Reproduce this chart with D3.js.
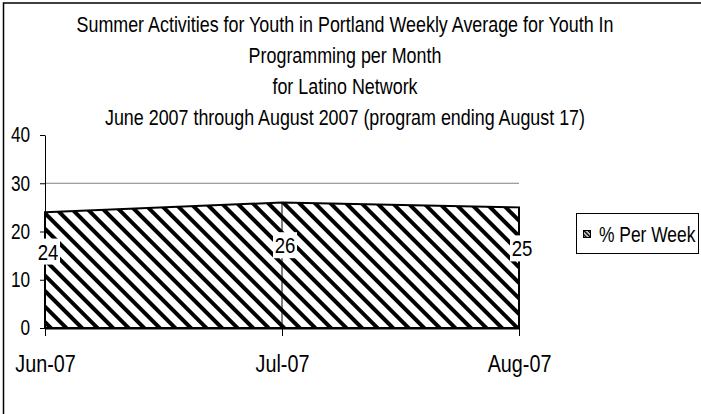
<!DOCTYPE html>
<html>
<head>
<meta charset="utf-8">
<script src="https://cdn.jsdelivr.net/npm/d3@7"></script>
<style>
  body { margin: 0; background: #fff; }
  svg text { font-family: "Liberation Sans Narrow", "Arial Narrow", "Liberation Sans", sans-serif; fill: #000; }
</style>
</head>
<body>
<svg id="chart" width="701" height="414"></svg>
<script>
// chart data
var months = ["Jun-07", "Jul-07", "Aug-07"];
var perWeek = [24, 26, 25];
var yTicks = [0, 10, 20, 30, 40];
var gridTicks = [10, 20, 30];
var seriesName = "% Per Week";
var titleLines = [
  "Summer Activities for Youth in Portland Weekly Average for Youth In",
  "Programming per Month",
  "for Latino Network",
  "June 2007 through August 2007 (program ending August 17)"
];

var data = months.map(function(m, i) { return {month: m, value: perWeek[i]}; });

var svg = d3.select("#chart");

var x = d3.scalePoint().domain(months).range([45, 519]);
var y = d3.scaleLinear().domain([0, 40]).range([328, 135]);

// squeeze text horizontally around its anchor (the original uses a narrow face)
function narrow(sel, k) {
  sel.each(function() {
    var ax = +d3.select(this).attr("x") || 0;
    d3.select(this).attr("transform",
        "translate(" + ax + ",0) scale(" + k + ",1) translate(" + (-ax) + ",0)");
  });
}

// hatch pattern
var defs = svg.append("defs");
var pat = defs.append("pattern")
    .attr("id", "hatch")
    .attr("patternUnits", "userSpaceOnUse")
    .attr("width", 11)
    .attr("height", 11)
    .attr("patternTransform", "rotate(-45)");
pat.append("rect").attr("width", 11).attr("height", 11).attr("fill", "#fff");
pat.append("rect").attr("x", 0).attr("width", 4).attr("height", 11).attr("fill", "#000");

var pat2 = defs.append("pattern")
    .attr("id", "hatchSmall")
    .attr("patternUnits", "userSpaceOnUse")
    .attr("width", 3)
    .attr("height", 3)
    .attr("patternTransform", "rotate(-45)");
pat2.append("rect").attr("width", 3).attr("height", 3).attr("fill", "#fff");
pat2.append("rect").attr("width", 1.6).attr("height", 3).attr("fill", "#000");

// outer border
svg.append("rect")
    .attr("x", 3.5).attr("y", 3)
    .attr("width", 800).attr("height", 500)
    .attr("fill", "none")
    .attr("stroke", "#000")
    .attr("stroke-width", 1.5);

// title
svg.append("g").selectAll("text")
    .data(titleLines)
  .enter().append("text")
    .attr("x", 345)
    .attr("y", function(d, i) { return 32 + i * 31; })
    .attr("text-anchor", "middle")
    .style("font-size", "22.5px")
    .text(function(d) { return d; })
    .call(narrow, 0.795);

// gridlines
svg.append("g").selectAll("line")
    .data(gridTicks)
  .enter().append("line")
    .attr("x1", x.range()[0]).attr("x2", x.range()[1])
    .attr("y1", function(d) { return y(d); })
    .attr("y2", function(d) { return y(d); })
    .attr("stroke", "#808080")
    .attr("stroke-width", 1);

// area
var area = d3.area()
    .x(function(d) { return x(d.month); })
    .y0(y(0))
    .y1(function(d) { return y(d.value); });

svg.append("path")
    .datum(data)
    .attr("d", area)
    .attr("fill", "url(#hatch)")
    .attr("stroke", "#000")
    .attr("stroke-width", 2);

// drop lines
svg.append("g").selectAll("line")
    .data(data)
  .enter().append("line")
    .attr("x1", function(d) { return x(d.month); })
    .attr("x2", function(d) { return x(d.month); })
    .attr("y1", function(d) { return y(d.value); })
    .attr("y2", y(0))
    .attr("stroke", "#000")
    .attr("stroke-width", 1);

// y axis
var yAxis = d3.axisLeft(y)
    .tickValues(yTicks)
    .tickSize(5)
    .tickSizeOuter(0)
    .tickPadding(10);

var gy = svg.append("g")
    .attr("transform", "translate(45,0)")
    .call(yAxis);
gy.attr("font-family", null);
gy.select(".domain").attr("stroke", "#000");
gy.selectAll(".tick line").attr("stroke", "#000");
gy.selectAll("text").style("font-size", "21.5px").call(narrow, 0.8);

// x axis
var xAxis = d3.axisBottom(x)
    .tickSize(8)
    .tickSizeOuter(0)
    .tickPadding(20);

var gx = svg.append("g")
    .attr("transform", "translate(0," + y(0) + ")")
    .call(xAxis);
gx.attr("font-family", null);
gx.select(".domain").attr("stroke", "#000").attr("stroke-width", 2);
gx.selectAll(".tick line").attr("stroke", "#000");
gx.selectAll("text").style("font-size", "23px").call(narrow, 0.86);

// data labels
var labels = svg.append("g").selectAll("g")
    .data(data)
  .enter().append("g");

labels.append("rect")
    .attr("x", function(d) { return x(d.month) - 9; })
    .attr("y", function(d) { return y(d.value * 0.66) - 13; })
    .attr("width", 24)
    .attr("height", 26)
    .attr("fill", "#fff");

labels.append("text")
    .attr("x", function(d) { return x(d.month) + 3; })
    .attr("y", function(d) { return y(d.value * 0.66); })
    .attr("dy", "0.35em")
    .attr("text-anchor", "middle")
    .style("font-size", "23px")
    .text(function(d) { return d.value; })
    .call(narrow, 0.81);

// legend
var legend = svg.append("g");
legend.append("rect")
    .attr("x", 576.5).attr("y", 213.5)
    .attr("width", 122).attr("height", 40)
    .attr("fill", "#fff")
    .attr("stroke", "#000");
legend.append("rect")
    .attr("x", 583.5).attr("y", 230.5)
    .attr("width", 7).attr("height", 7)
    .attr("fill", "url(#hatchSmall)")
    .attr("stroke", "#000");
legend.append("text")
    .attr("x", 599).attr("y", 242)
    .style("font-size", "21.5px")
    .text(seriesName)
    .call(narrow, 0.81);
</script>
</body>
</html>
